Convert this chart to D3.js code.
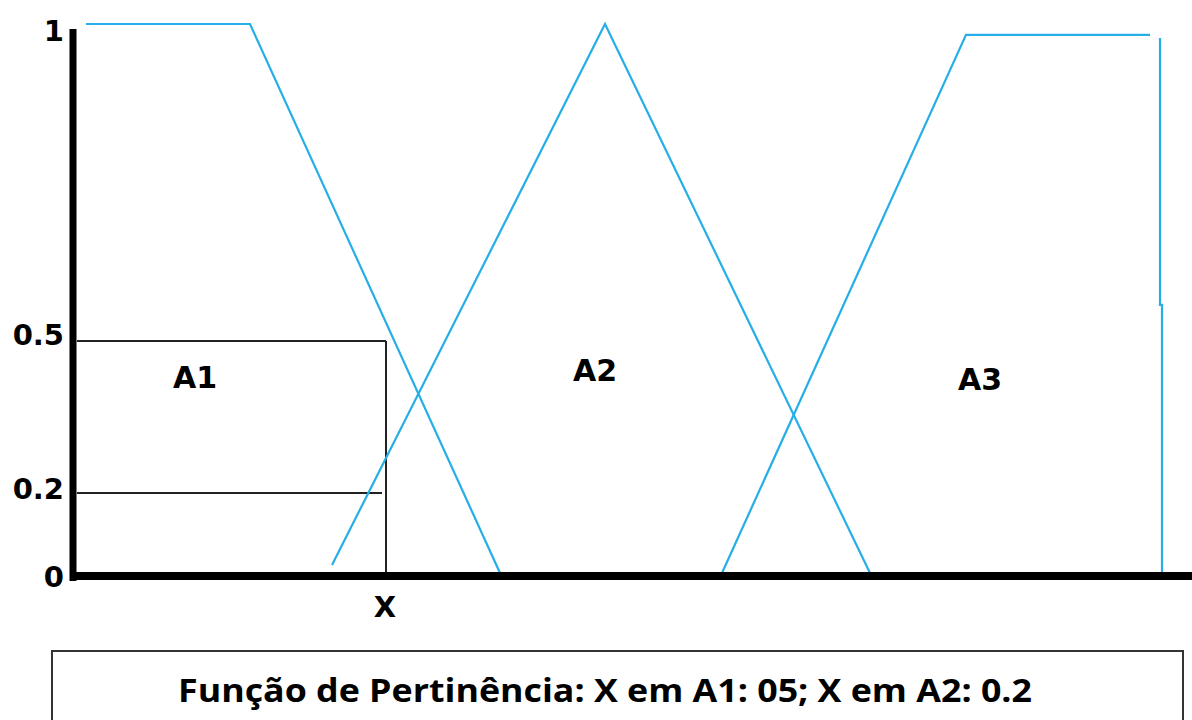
<!DOCTYPE html>
<html>
<head>
<meta charset="utf-8">
<script src="https://cdn.jsdelivr.net/npm/d3@7/dist/d3.min.js"></script>
<style>
    body { margin: 0; background: #fff; }
    svg { display: block; }
</style>
</head>
<body>
<div id="chart"></div>
<script>
// membership functions (universe value, degree)
let a1Points = [[1.3, 1], [17.7, 1], [42.7, 0]];
let a2Points = [[25.9, 0.02], [53.2, 1], [79.7, 0]];
let a3Points = [[64.9, 0], [89.3, 0.983], [107.7, 0.983]];
let a3Edge = [[108.7, 0.978], [108.7, 0.557], [108.9, 0.557], [108.9, 0]];

let setLabels = ["A1", "A2", "A3"];
let setLabelPos = [[12.2, 0.407], [52.2, 0.421], [90.7, 0.403]];

let xValue = 31.3;
let xLabel = "X";
let degreeA1 = 0.5;
let degreeA2 = 0.2;

let tickValues = [0, 0.2, 0.5, 1];
let tickLabels = ["0", "0.2", "0.5", "1"];
let tickNudge = [14, 6, 4, 17];

let caption = "Função de Pertinência: X em A1: 05; X em A2: 0.2";

let width = 1192, height = 720;
let blue = "#26aee6";

let svg = d3.select("#chart").append("svg")
    .attr("width", width)
    .attr("height", height);

// hand drawn axis is not to scale, so the y scale is piecewise
let x = d3.scaleLinear().domain([0, 112]).range([73, 1193]);
let y = d3.scaleLinear().domain([0, 0.2, 0.5, 1]).range([573, 493, 341, 24]);

let line = d3.line()
    .x(d => x(d[0]))
    .y(d => y(d[1]));

// guide lines for X
svg.append("line")
    .attr("x1", 77).attr("x2", x(xValue))
    .attr("y1", y(degreeA1)).attr("y2", y(degreeA1))
    .attr("stroke", "#222").attr("stroke-width", 2);

svg.append("line")
    .attr("x1", 77).attr("x2", x(xValue) - 4)
    .attr("y1", y(degreeA2)).attr("y2", y(degreeA2))
    .attr("stroke", "#222").attr("stroke-width", 2);

svg.append("line")
    .attr("x1", x(xValue)).attr("x2", x(xValue))
    .attr("y1", y(degreeA1)).attr("y2", y(0))
    .attr("stroke", "#222").attr("stroke-width", 2);

// membership curves
[a1Points, a2Points, a3Points, a3Edge].forEach(pts => {
    svg.append("path")
        .attr("d", line(pts))
        .attr("fill", "none")
        .attr("stroke", blue)
        .attr("stroke-width", 2.2);
});

// axes
svg.append("line")
    .attr("x1", x(0)).attr("x2", x(0))
    .attr("y1", 29).attr("y2", 581)
    .attr("stroke", "#000").attr("stroke-width", 7);

svg.append("line")
    .attr("x1", 70).attr("x2", width)
    .attr("y1", y(0) + 3).attr("y2", y(0) + 3)
    .attr("stroke", "#000").attr("stroke-width", 8);

// tick labels
svg.selectAll(".tick-label")
    .data(tickValues)
    .enter().append("text")
    .attr("class", "tick-label")
    .attr("x", 64)
    .attr("y", (d, i) => y(d) + tickNudge[i])
    .attr("text-anchor", "end")
    .attr("font-family", "DejaVu Sans")
    .attr("font-weight", "bold")
    .attr("font-size", "29px")
    .attr("fill", "#000")
    .text((d, i) => tickLabels[i]);

svg.append("text")
    .attr("x", x(xValue) - 1)
    .attr("y", 617)
    .attr("text-anchor", "middle")
    .attr("font-family", "DejaVu Sans")
    .attr("font-weight", "bold")
    .attr("font-size", "29px")
    .text(xLabel);

// set names
svg.selectAll(".set-label")
    .data(setLabels)
    .enter().append("text")
    .attr("class", "set-label")
    .attr("x", (d, i) => x(setLabelPos[i][0]))
    .attr("y", (d, i) => y(setLabelPos[i][1]))
    .attr("text-anchor", "middle")
    .attr("font-family", "DejaVu Sans")
    .attr("font-weight", "bold")
    .attr("font-size", "30px")
    .text(d => d);

// caption box
svg.append("rect")
    .attr("x", 52).attr("y", 651)
    .attr("width", 1131).attr("height", 120)
    .attr("fill", "none")
    .attr("stroke", "#333")
    .attr("stroke-width", 2);

svg.append("text")
    .attr("x", 178)
    .attr("y", 702)
    .attr("font-family", "Open Sans")
    .attr("font-weight", "bold")
    .attr("font-size", "33px")
    .attr("textLength", 854)
    .attr("lengthAdjust", "spacingAndGlyphs")
    .text(caption);
</script>
</body>
</html>
